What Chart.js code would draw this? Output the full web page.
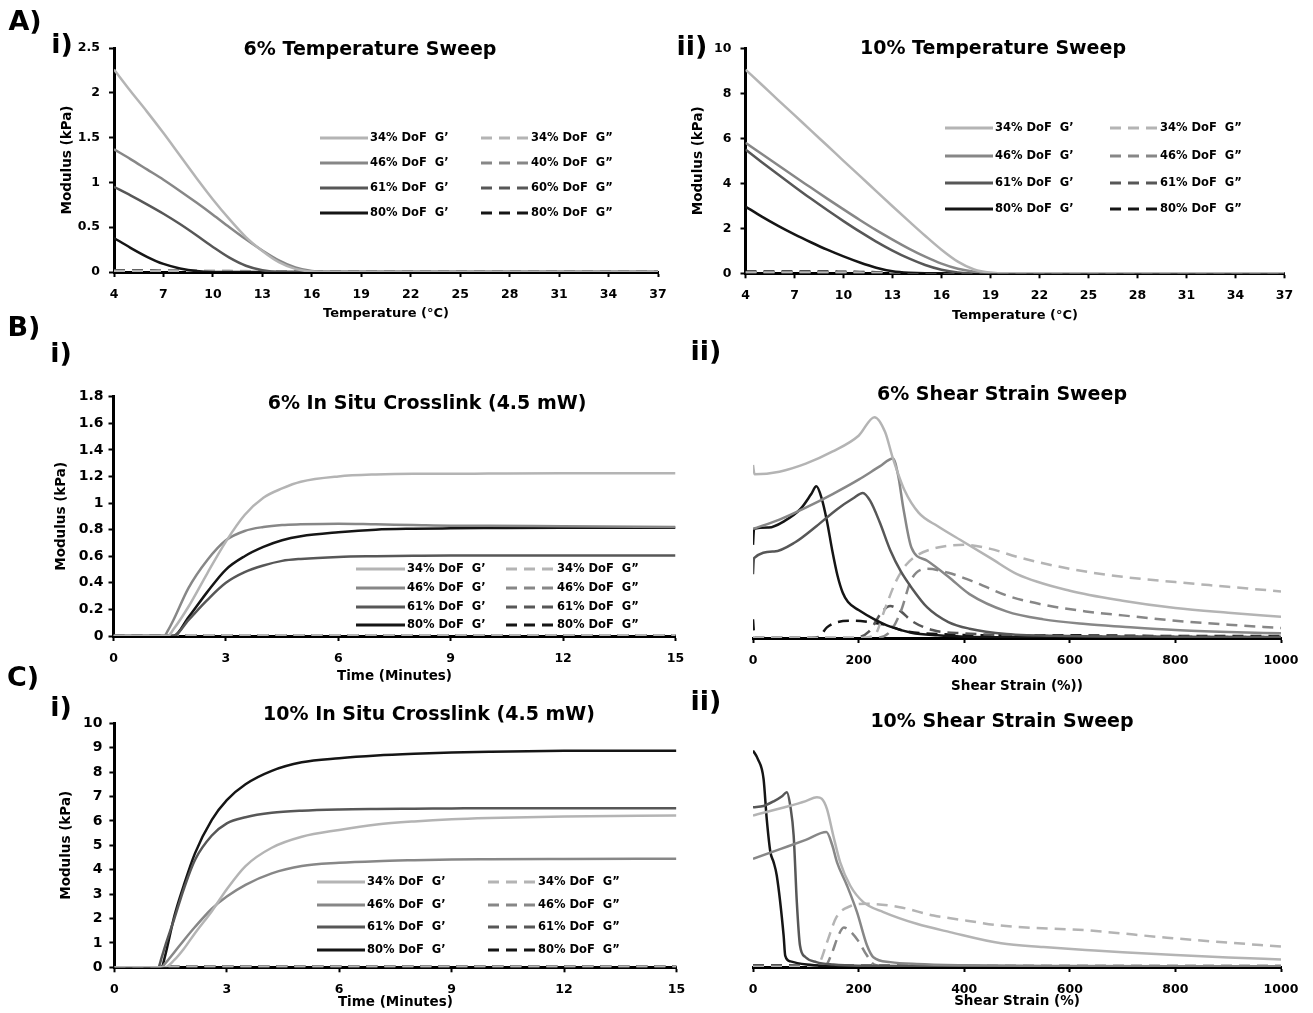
<!DOCTYPE html>
<html>
<head>
<meta charset="utf-8">
<title>Rheology of DoF hydrogels</title>
<script src="https://cdn.jsdelivr.net/npm/chart.js@4.4.1/dist/chart.umd.min.js"></script>
<style>
  html, body { margin: 0; padding: 0; background: #fff; }
  #fig { position: relative; width: 1313px; height: 1013px; overflow: hidden;
         font-family: "DejaVu Sans", sans-serif; font-weight: bold; color: #000; }
  #fig canvas { position: absolute; left: 0; top: 0; }
  .lbl { position: absolute; white-space: nowrap; line-height: 1; transform: translate(-50%, -50%); }
  .panel { font-size: 27px; }
  .ttl { font-size: 19px; }
</style>
</head>
<body>
<div id="fig">
  <canvas id="cA1" width="1313" height="1013"></canvas>
  <canvas id="cA2" width="1313" height="1013"></canvas>
  <canvas id="cB1" width="1313" height="1013"></canvas>
  <canvas id="cB2" width="1313" height="1013"></canvas>
  <canvas id="cC1" width="1313" height="1013"></canvas>
  <canvas id="cC2" width="1313" height="1013"></canvas>

  <div class="lbl panel" style="left:25px;top:20px">A)</div>
  <div class="lbl panel" style="left:62px;top:43px">i)</div>
  <div class="lbl panel" style="left:692px;top:45px">ii)</div>
  <div class="lbl panel" style="left:24px;top:326px">B)</div>
  <div class="lbl panel" style="left:61px;top:352px">i)</div>
  <div class="lbl panel" style="left:706px;top:350px">ii)</div>
  <div class="lbl panel" style="left:23px;top:676px">C)</div>
  <div class="lbl panel" style="left:61px;top:706px">i)</div>
  <div class="lbl panel" style="left:706px;top:700px">ii)</div>

  <div class="lbl ttl" style="left:370px;top:48px">6% Temperature Sweep</div>
  <div class="lbl ttl" style="left:993px;top:47px">10% Temperature Sweep</div>
  <div class="lbl ttl" style="left:427px;top:402px">6% In Situ Crosslink (4.5 mW)</div>
  <div class="lbl ttl" style="left:1002px;top:393px">6% Shear Strain Sweep</div>
  <div class="lbl ttl" style="left:429px;top:713px">10% In Situ Crosslink (4.5 mW)</div>
  <div class="lbl ttl" style="left:1002px;top:720px">10% Shear Strain Sweep</div>
</div>

<script>
// ---------- tick positions ----------
const tempTicks   = [4, 7, 10, 13, 16, 19, 22, 25, 28, 31, 34, 37];
const mod6Ticks   = [0, 0.5, 1, 1.5, 2, 2.5];
const mod10Ticks  = [0, 2, 4, 6, 8, 10];
const timeTicks   = [0, 3, 6, 9, 12, 15];
const cure6Ticks  = [0, 0.2, 0.4, 0.6, 0.8, 1, 1.2, 1.4, 1.6, 1.8];
const cure10Ticks = [0, 1, 2, 3, 4, 5, 6, 7, 8, 9, 10];
const strainTicks = [0, 200, 400, 600, 800, 1000];

// ---------- legend labels ----------
const gpLabels    = ["34% DoF  G\u2019", "46% DoF  G\u2019", "61% DoF  G\u2019", "80% DoF  G\u2019"];
const gppLabels   = ["34% DoF  G\u201D", "46% DoF  G\u201D", "61% DoF  G\u201D", "80% DoF  G\u201D"];
const gppLabelsA1 = ["34% DoF  G\u201D", "40% DoF  G\u201D", "60% DoF  G\u201D", "80% DoF  G\u201D"];

// ---------- temperature sweeps (°C, kPa) ----------
const tempX = [4, 5, 6, 7, 8, 9, 10, 11, 12, 13, 14, 15, 16, 17, 18, 19, 20, 22, 25, 28, 31, 34, 37];

const t6_34_Gp  = [2.26, 2.02, 1.79, 1.55, 1.30, 1.05, 0.81, 0.59, 0.39, 0.235, 0.11, 0.035, 0.005, 0, 0, 0, 0, 0, 0, 0, 0, 0, 0];
const t6_46_Gp  = [1.37, 1.26, 1.145, 1.03, 0.905, 0.775, 0.64, 0.50, 0.365, 0.24, 0.13, 0.05, 0.01, 0, 0, 0, 0, 0, 0, 0, 0, 0, 0];
const t6_61_Gp  = [0.95, 0.855, 0.755, 0.65, 0.535, 0.41, 0.28, 0.16, 0.07, 0.02, 0, 0, 0, 0, 0, 0, 0, 0, 0, 0, 0, 0, 0];
const t6_80_Gp  = [0.38, 0.27, 0.17, 0.09, 0.04, 0.01, 0, 0, 0, 0, 0, 0, 0, 0, 0, 0, 0, 0, 0, 0, 0, 0, 0];
const t6_34_Gpp = [0.01, 0.01, 0.01, 0.01, 0.01, 0.01, 0.01, 0.01, 0.01, 0.005, 0, 0, 0, 0, 0, 0, 0, 0, 0, 0, 0, 0, 0];
const t6_46_Gpp = [0.01, 0.01, 0.01, 0.01, 0.01, 0.01, 0.01, 0.01, 0.005, 0, 0, 0, 0, 0, 0, 0, 0, 0, 0, 0, 0, 0, 0];
const t6_61_Gpp = [0.015, 0.015, 0.015, 0.01, 0.01, 0.01, 0.005, 0, 0, 0, 0, 0, 0, 0, 0, 0, 0, 0, 0, 0, 0, 0, 0];
const t6_80_Gpp = [0.02, 0.02, 0.02, 0.015, 0.015, 0.01, 0.005, 0, 0, 0, 0, 0, 0, 0, 0, 0, 0, 0, 0, 0, 0, 0, 0];

const t10_34_Gp  = [9.05, 8.38, 7.7, 7.03, 6.35, 5.68, 5.0, 4.33, 3.65, 2.98, 2.32, 1.67, 1.05, 0.52, 0.17, 0.03, 0, 0, 0, 0, 0, 0, 0];
const t10_46_Gp  = [5.8, 5.3, 4.8, 4.3, 3.81, 3.32, 2.84, 2.37, 1.92, 1.5, 1.1, 0.74, 0.43, 0.2, 0.07, 0.015, 0, 0, 0, 0, 0, 0, 0];
const t10_61_Gp  = [5.5, 4.94, 4.39, 3.85, 3.32, 2.81, 2.32, 1.85, 1.41, 1.01, 0.66, 0.37, 0.16, 0.04, 0, 0, 0, 0, 0, 0, 0, 0, 0];
const t10_80_Gp  = [2.97, 2.52, 2.11, 1.73, 1.38, 1.05, 0.75, 0.48, 0.25, 0.09, 0.02, 0, 0, 0, 0, 0, 0, 0, 0, 0, 0, 0, 0];
const t10_34_Gpp = [0.03, 0.03, 0.03, 0.03, 0.03, 0.03, 0.02, 0.02, 0.01, 0.01, 0, 0, 0, 0, 0, 0, 0, 0, 0, 0, 0, 0, 0];
const t10_46_Gpp = [0.04, 0.04, 0.04, 0.04, 0.03, 0.03, 0.03, 0.02, 0.01, 0.01, 0, 0, 0, 0, 0, 0, 0, 0, 0, 0, 0, 0, 0];
const t10_61_Gpp = [0.05, 0.05, 0.05, 0.05, 0.05, 0.04, 0.04, 0.03, 0.02, 0.01, 0, 0, 0, 0, 0, 0, 0, 0, 0, 0, 0, 0, 0];
const t10_80_Gpp = [0.08, 0.08, 0.08, 0.08, 0.08, 0.08, 0.07, 0.06, 0.05, 0.02, 0, 0, 0, 0, 0, 0, 0, 0, 0, 0, 0, 0, 0];

// ---------- in situ crosslinking (minutes, kPa) ----------
const cure6X = [0, 1, 1.35, 1.45, 1.6, 2, 2.5, 3, 3.5, 4, 4.5, 5, 6, 7, 8, 9, 10, 12, 15];
const c6_34_Gp  = [0, 0, 0, 0, 0.05, 0.22, 0.47, 0.71, 0.91, 1.04, 1.11, 1.16, 1.20, 1.215, 1.22, 1.22, 1.222, 1.225, 1.225];
const c6_46_Gp  = [0, 0, 0, 0.04, 0.12, 0.36, 0.57, 0.72, 0.79, 0.82, 0.835, 0.84, 0.845, 0.84, 0.835, 0.83, 0.83, 0.825, 0.82];
const c6_61_Gp  = [0, 0, 0, 0, 0, 0.12, 0.27, 0.40, 0.48, 0.53, 0.565, 0.58, 0.595, 0.60, 0.603, 0.605, 0.605, 0.605, 0.605];
const c6_80_Gp  = [0, 0, 0, 0, 0, 0.14, 0.33, 0.50, 0.60, 0.67, 0.72, 0.75, 0.78, 0.80, 0.807, 0.81, 0.812, 0.815, 0.815];
const c6_34_Gpp = [0, 0, 0, 0, 0, 0.005, 0.005, 0.005, 0.005, 0.005, 0.005, 0.005, 0.005, 0.005, 0.005, 0.005, 0.005, 0.005, 0.005];
const c6_46_Gpp = [0, 0, 0, 0, 0, 0.005, 0.005, 0.005, 0.005, 0.005, 0.005, 0.005, 0.005, 0.005, 0.005, 0.005, 0.005, 0.005, 0.005];
const c6_61_Gpp = [0, 0, 0, 0, 0, 0.005, 0.005, 0.005, 0.005, 0.005, 0.005, 0.005, 0.005, 0.005, 0.005, 0.005, 0.005, 0.005, 0.005];
const c6_80_Gpp = [0, 0, 0, 0, 0, 0.005, 0.005, 0.005, 0.005, 0.005, 0.005, 0.005, 0.005, 0.005, 0.005, 0.005, 0.005, 0.005, 0.005];

const cure10X = [0, 1, 1.17, 1.26, 1.35, 1.6, 1.85, 2.15, 2.6, 3, 3.5, 4.2, 5, 6, 7, 8, 9, 10, 12, 15];
const c10_34_Gp  = [0, 0, 0, 0, 0, 0.3, 0.75, 1.4, 2.3, 3.2, 4.15, 4.9, 5.35, 5.63, 5.85, 5.98, 6.07, 6.12, 6.18, 6.22];
const c10_46_Gp  = [0, 0, 0, 0, 0.15, 0.62, 1.1, 1.65, 2.4, 2.9, 3.38, 3.85, 4.15, 4.28, 4.35, 4.39, 4.42, 4.43, 4.44, 4.45];
const c10_61_Gp  = [0, 0, 0, 0.4, 0.85, 2.0, 3.2, 4.4, 5.4, 5.9, 6.15, 6.33, 6.42, 6.47, 6.49, 6.5, 6.51, 6.52, 6.52, 6.52];
const c10_80_Gp  = [0, 0, 0, 0, 0.45, 2.1, 3.35, 4.67, 6.04, 6.85, 7.5, 8.05, 8.4, 8.57, 8.68, 8.75, 8.8, 8.83, 8.87, 8.88];
const c10_34_Gpp = [0, 0, 0, 0, 0, 0.02, 0.02, 0.02, 0.02, 0.02, 0.02, 0.02, 0.02, 0.02, 0.02, 0.02, 0.02, 0.02, 0.02, 0.02];
const c10_46_Gpp = [0, 0, 0, 0, 0.02, 0.02, 0.02, 0.02, 0.02, 0.02, 0.02, 0.02, 0.02, 0.02, 0.02, 0.02, 0.02, 0.02, 0.02, 0.02];
const c10_61_Gpp = [0, 0, 0, 0.03, 0.03, 0.03, 0.03, 0.03, 0.03, 0.03, 0.03, 0.03, 0.03, 0.03, 0.03, 0.03, 0.03, 0.03, 0.03, 0.03];
const c10_80_Gpp = [0, 0, 0, 0, 0.04, 0.04, 0.04, 0.04, 0.04, 0.04, 0.04, 0.04, 0.04, 0.04, 0.04, 0.04, 0.04, 0.04, 0.04, 0.04];

// ---------- shear strain sweeps ([strain %, kPa]) ----------
const s6_34_Gp = [[0,1.30],[3,1.23],[50,1.25],[100,1.31],[150,1.40],[200,1.52],[230,1.66],[250,1.55],[265,1.35],[287,1.11],[314,0.94],[350,0.84],[400,0.72],[450,0.60],[500,0.48],[600,0.355],[700,0.28],[800,0.225],[900,0.19],[1000,0.16]];
const s6_46_Gp = [[0,0.82],[50,0.89],[100,0.98],[150,1.08],[200,1.19],[240,1.29],[265,1.35],[275,1.22],[285,0.97],[300,0.68],[330,0.58],[370,0.46],[410,0.33],[480,0.20],[550,0.14],[630,0.105],[700,0.085],[800,0.06],[900,0.045],[1000,0.035]];
const s6_61_Gp = [[0,0.48],[2,0.60],[40,0.65],[80,0.72],[120,0.84],[160,0.97],[190,1.05],[208,1.09],[222,1.03],[240,0.87],[260,0.66],[280,0.50],[300,0.38],[330,0.23],[370,0.12],[410,0.07],[480,0.03],[600,0.015],[800,0.01],[1000,0.008]];
const s6_80_Gp = [[0,0.70],[2,0.82],[30,0.83],[60,0.88],[90,0.97],[110,1.08],[120,1.14],[130,1.05],[140,0.88],[150,0.66],[160,0.47],[170,0.34],[180,0.27],[200,0.21],[230,0.14],[260,0.085],[300,0.04],[350,0.02],[400,0.01],[500,0.005],[700,0.003],[1000,0.002]];
const s6_34_Gpp = [[0,0],[200,0],[230,0.02],[250,0.22],[270,0.42],[290,0.55],[310,0.62],[350,0.68],[400,0.70],[450,0.67],[500,0.61],[600,0.52],[700,0.46],[800,0.42],[900,0.385],[1000,0.35]];
const s6_46_Gpp = [[0,0],[230,0],[260,0.05],[280,0.20],[300,0.44],[330,0.52],[370,0.49],[420,0.42],[480,0.32],[550,0.25],[630,0.20],[700,0.17],[800,0.13],[900,0.10],[1000,0.075]];
const s6_61_Gpp = [[0,0],[190,0],[220,0.05],[245,0.20],[260,0.24],[280,0.20],[300,0.13],[340,0.06],[400,0.035],[500,0.02],[700,0.01],[1000,0.008]];
const s6_80_Gpp = [[0,0.14],[3,0],[110,0],[125,0.01],[140,0.08],[160,0.12],[190,0.13],[220,0.12],[250,0.10],[290,0.05],[350,0.03],[450,0.02],[600,0.02],[800,0.015],[1000,0.015]];

const s10_34_Gp = [[0,6.21],[60,6.55],[100,6.8],[121,6.96],[130,6.9],[140,6.48],[152,5.39],[165,4.30],[184,3.34],[209,2.66],[247,2.25],[310,1.77],[373,1.43],[470,0.97],[550,0.82],[630,0.70],[700,0.60],[800,0.49],[900,0.39],[1000,0.31]];
const s10_46_Gp = [[0,4.43],[50,4.82],[100,5.21],[139,5.53],[150,5.0],[159,4.3],[178,3.34],[197,2.25],[216,0.88],[228,0.4],[260,0.2],[310,0.12],[400,0.07],[600,0.04],[1000,0.03]];
const s10_61_Gp = [[0,6.55],[20,6.6],[40,6.8],[55,7.0],[64,7.16],[71,6.55],[77,5.39],[83,2.66],[89,0.88],[99,0.41],[120,0.2],[152,0.1],[200,0.05],[400,0.03],[1000,0.02]];
const s10_80_Gp = [[0,8.87],[9,8.53],[20,7.71],[26,6.07],[33,4.70],[39,4.3],[45,3.75],[58,1.29],[61,0.47],[71,0.23],[102,0.1],[134,0.05],[200,0.03],[400,0.02],[1000,0.015]];
const s10_34_Gpp = [[0,0],[115,0],[125,0.12],[140,1.0],[158,2.04],[184,2.49],[215,2.59],[278,2.45],[342,2.11],[405,1.9],[468,1.7],[634,1.5],[784,1.2],[900,1.0],[1000,0.84]];
const s10_46_Gpp = [[0,0],[135,0],[150,0.6],[160,1.2],[172,1.62],[185,1.45],[200,1.05],[215,0.5],[230,0.1],[260,0.02],[1000,0.01]];
const s10_61_Gpp = [[0,0.05],[200,0.04],[600,0.03],[1000,0.03]];
const s10_80_Gpp = [[0,0.06],[200,0.05],[600,0.04],[1000,0.04]];

// ---------- drawing ----------
const W = 1313, H = 1013;
const SHADE = ['#b4b4b4', '#878787', '#575757', '#151515'];
const FONT = '"DejaVu Sans", sans-serif';
Chart.defaults.font.family = FONT;
Chart.defaults.font.weight = 'bold';
Chart.defaults.color = '#000';

const fmt = v => String(Math.round(v * 100) / 100);
const zip = (xs, ys) => xs.map((x, i) => [x, ys[i]]);

function line(label, pts, shade, dashed) {
  return {
    label,
    data: pts.map(p => ({ x: p[0], y: p[1] })),
    borderColor: SHADE[shade],
    borderWidth: 2.5,
    borderDash: dashed ? [11, 7] : [],
    pointRadius: 0,
    fill: false,
    cubicInterpolationMode: 'monotone'
  };
}

// Two-column legend (G' left, G" right) drawn inside the plot
const dofLegend = {
  id: 'dofLegend',
  afterDraw(chart, args, o) {
    if (!o || !o.rows) return;
    const ctx = chart.ctx;
    ctx.save();
    ctx.font = 'bold 11.5px ' + FONT;
    ctx.textBaseline = 'middle';
    ctx.textAlign = 'left';
    chart.data.datasets.forEach((ds, i) => {
      const col = Math.floor(i / 4), row = i % 4;
      const x0 = o.cols[col], y = o.rows[row];
      ctx.strokeStyle = ds.borderColor;
      ctx.lineWidth = 2.8;
      ctx.setLineDash(ds.borderDash || []);
      ctx.beginPath();
      ctx.moveTo(x0, y);
      ctx.lineTo(x0 + o.lineLen, y);
      ctx.stroke();
      ctx.setLineDash([]);
      ctx.fillStyle = '#000';
      ctx.fillText(ds.label, x0 + o.lineLen + 2, y + 0.5);
    });
    ctx.restore();
  }
};

function axisX(c) {
  return {
    type: 'linear', min: c.xMin, max: c.xMax,
    afterBuildTicks: s => { s.ticks = c.xTicks.map(v => ({ value: v })); },
    afterFit: s => { s.height = c.xH; },
    ticks: { autoSkip: false, maxRotation: 0, padding: 10, font: { size: 12.5, weight: 'bold' }, color: '#000', callback: fmt },
    grid: { display: true, drawOnChartArea: false, drawTicks: true, tickLength: 5, tickWidth: 2, tickColor: '#000' },
    border: { display: true, color: '#000', width: 3 },
    title: { display: true, text: c.xTitle, font: { size: c.xTitleSize || 13.5, weight: 'bold' }, color: '#000', padding: 0 }
  };
}

function axisY(c) {
  if (!c.yTicks) return { display: false, min: c.yMin, max: c.yMax };
  return {
    type: 'linear', min: c.yMin, max: c.yMax,
    afterBuildTicks: s => { s.ticks = c.yTicks.map(v => ({ value: v })); },
    afterFit: s => { s.width = c.yW; },
    ticks: { autoSkip: false, padding: c.yPad, font: { size: c.yTickSize, weight: 'bold' }, color: '#000', callback: fmt },
    grid: { display: true, drawOnChartArea: false, drawTicks: true, tickLength: 5, tickWidth: 2, tickColor: '#000' },
    border: { display: true, color: '#000', width: 3 },
    title: { display: true, text: 'Modulus (kPa)', font: { size: 13.5, weight: 'bold' }, color: '#000', padding: 0 }
  };
}

function panel(id, c) {
  const p = c.plot;
  const yW = c.yTicks ? c.yW : 0;
  new Chart(document.getElementById(id), {
    type: 'line',
    data: { datasets: c.datasets },
    options: {
      responsive: false, animation: false, events: [],
      layout: { padding: { left: p.l - yW, top: p.t, right: W - p.r, bottom: H - p.b - c.xH } },
      plugins: { legend: { display: false }, tooltip: { enabled: false }, dofLegend: c.legend || false },
      scales: { x: axisX(c), y: axisY(c) }
    },
    plugins: [dofLegend]
  });
}

function fourByFour(x, gp, gpp, labelsGpp) {
  return [
    line(gpLabels[0], zip(x, gp[0]), 0, false),
    line(gpLabels[1], zip(x, gp[1]), 1, false),
    line(gpLabels[2], zip(x, gp[2]), 2, false),
    line(gpLabels[3], zip(x, gp[3]), 3, false),
    line(labelsGpp[0], zip(x, gpp[0]), 0, true),
    line(labelsGpp[1], zip(x, gpp[1]), 1, true),
    line(labelsGpp[2], zip(x, gpp[2]), 2, true),
    line(labelsGpp[3], zip(x, gpp[3]), 3, true)
  ];
}

// A i) 6% temperature sweep
panel('cA1', {
  plot: { l: 114, t: 48, r: 658, b: 272 }, yW: 55, xH: 49, yPad: 9, yTickSize: 12.5, xTitleSize: 13,
  xMin: 4, xMax: 37, xTicks: tempTicks, xTitle: 'Temperature (\u00B0C)',
  yMin: 0, yMax: 2.5, yTicks: mod6Ticks,
  datasets: fourByFour(tempX, [t6_34_Gp, t6_46_Gp, t6_61_Gp, t6_80_Gp], [t6_34_Gpp, t6_46_Gpp, t6_61_Gpp, t6_80_Gpp], gppLabelsA1),
  legend: { cols: [320, 481], rows: [138, 163, 188, 213], lineLen: 48 }
});

// A ii) 10% temperature sweep
panel('cA2', {
  plot: { l: 745.5, t: 48.3, r: 1284.5, b: 273.3 }, yW: 55.5, xH: 50, yPad: 9, yTickSize: 12.5, xTitleSize: 13,
  xMin: 4, xMax: 37, xTicks: tempTicks, xTitle: 'Temperature (\u00B0C)',
  yMin: 0, yMax: 10, yTicks: mod10Ticks,
  datasets: fourByFour(tempX, [t10_34_Gp, t10_46_Gp, t10_61_Gp, t10_80_Gp], [t10_34_Gpp, t10_46_Gpp, t10_61_Gpp, t10_80_Gpp], gppLabels),
  legend: { cols: [945, 1110], rows: [128, 156, 183, 209], lineLen: 48 }
});

// B i) 6% in situ crosslinking
panel('cB1', {
  plot: { l: 113.5, t: 396.7, r: 675.5, b: 636 }, yW: 60, xH: 49, yPad: 5, yTickSize: 14,
  xMin: 0, xMax: 15, xTicks: timeTicks, xTitle: 'Time (Minutes)',
  yMin: 0, yMax: 1.8, yTicks: cure6Ticks,
  datasets: fourByFour(cure6X, [c6_34_Gp, c6_46_Gp, c6_61_Gp, c6_80_Gp], [c6_34_Gpp, c6_46_Gpp, c6_61_Gpp, c6_80_Gpp], gppLabels),
  legend: { cols: [356, 506], rows: [569, 588, 607, 625], lineLen: 49 }
});

// B ii) 6% shear strain sweep (modulus axis hidden)
panel('cB2', {
  plot: { l: 753, t: 398.5, r: 1281, b: 638 }, xH: 57,
  xMin: 0, xMax: 1000, xTicks: strainTicks, xTitle: 'Shear Strain (%))',
  yMin: 0, yMax: 1.8,
  datasets: [
    line(gpLabels[0], s6_34_Gp, 0, false), line(gpLabels[1], s6_46_Gp, 1, false),
    line(gpLabels[2], s6_61_Gp, 2, false), line(gpLabels[3], s6_80_Gp, 3, false),
    line(gppLabels[0], s6_34_Gpp, 0, true), line(gppLabels[1], s6_46_Gpp, 1, true),
    line(gppLabels[2], s6_61_Gpp, 2, true), line(gppLabels[3], s6_80_Gpp, 3, true)
  ]
});

// C i) 10% in situ crosslinking
panel('cC1', {
  plot: { l: 114.4, t: 723.3, r: 676.4, b: 967.3 }, yW: 56.5, xH: 43, yPad: 7, yTickSize: 14,
  xMin: 0, xMax: 15, xTicks: timeTicks, xTitle: 'Time (Minutes)',
  yMin: 0, yMax: 10, yTicks: cure10Ticks,
  datasets: fourByFour(cure10X, [c10_34_Gp, c10_46_Gp, c10_61_Gp, c10_80_Gp], [c10_34_Gpp, c10_46_Gpp, c10_61_Gpp, c10_80_Gpp], gppLabels),
  legend: { cols: [317, 488], rows: [882, 905, 927, 950], lineLen: 48 }
});

// C ii) 10% shear strain sweep (modulus axis hidden)
panel('cC2', {
  plot: { l: 753, t: 723, r: 1281, b: 967 }, xH: 43,
  xMin: 0, xMax: 1000, xTicks: strainTicks, xTitle: 'Shear Strain (%)',
  yMin: 0, yMax: 10,
  datasets: [
    line(gpLabels[0], s10_34_Gp, 0, false), line(gpLabels[1], s10_46_Gp, 1, false),
    line(gpLabels[2], s10_61_Gp, 2, false), line(gpLabels[3], s10_80_Gp, 3, false),
    line(gppLabels[0], s10_34_Gpp, 0, true), line(gppLabels[1], s10_46_Gpp, 1, true),
    line(gppLabels[2], s10_61_Gpp, 2, true), line(gppLabels[3], s10_80_Gpp, 3, true)
  ]
});
</script>
</body>
</html>
